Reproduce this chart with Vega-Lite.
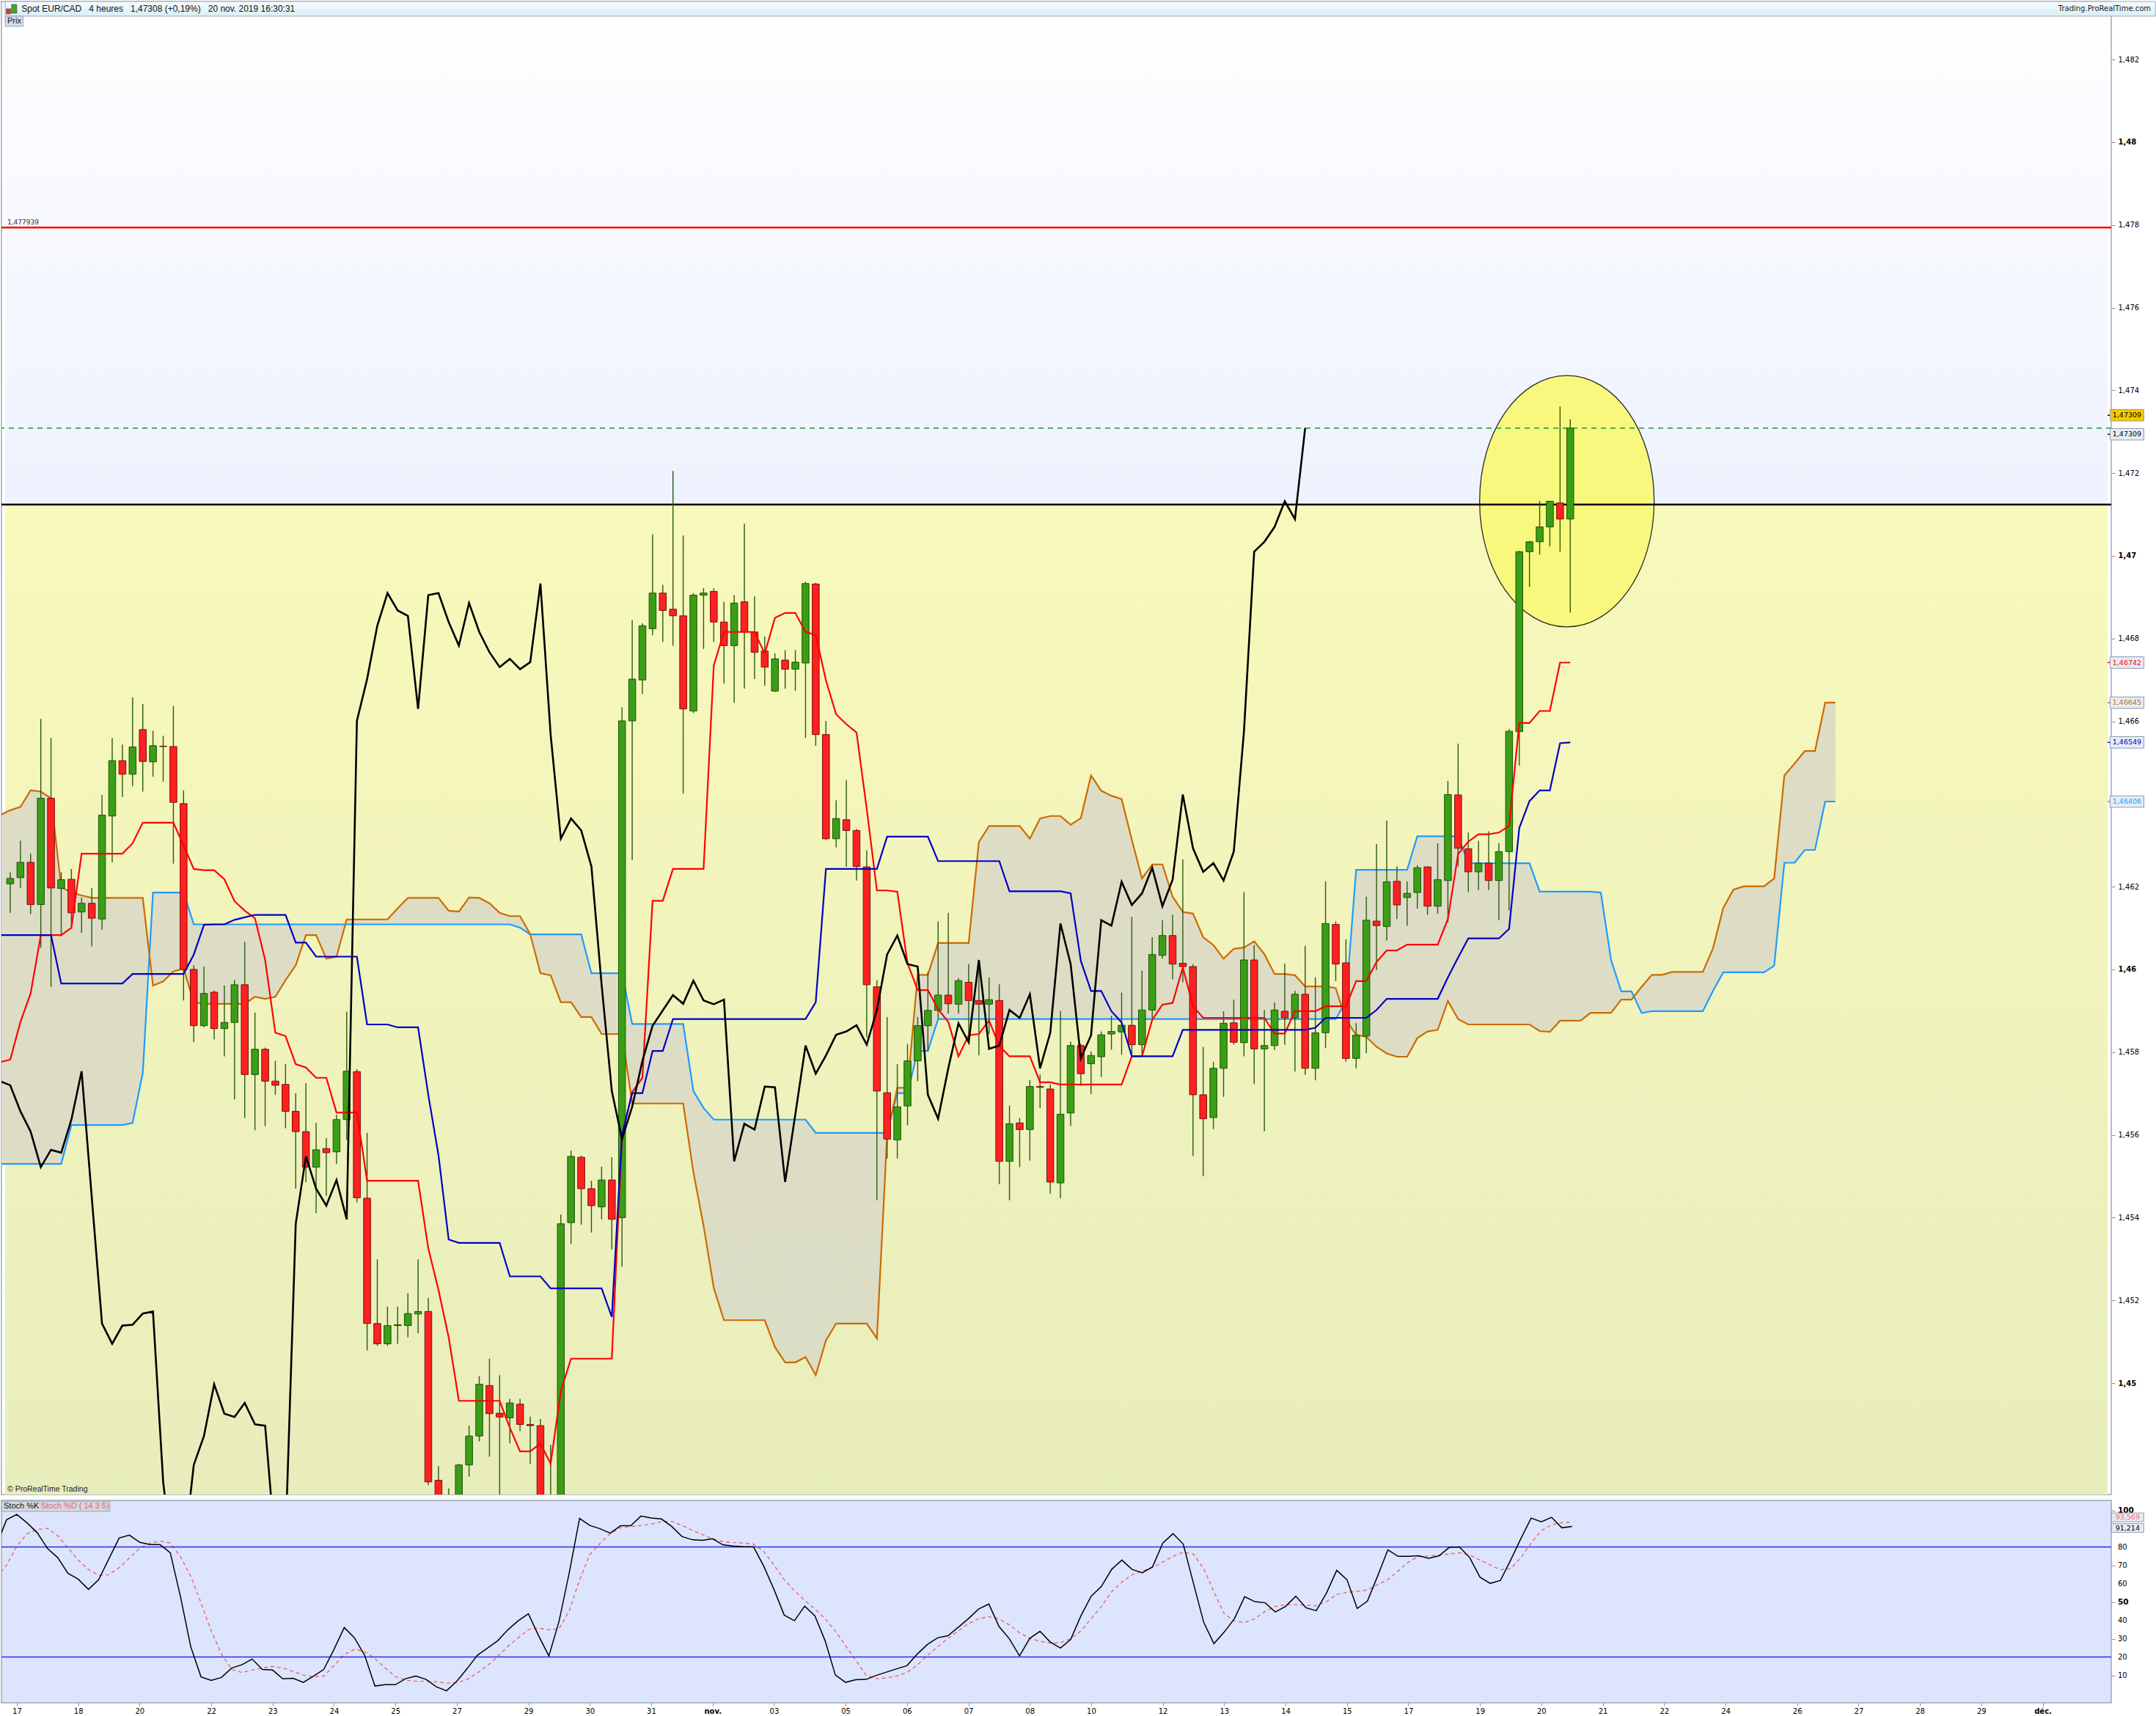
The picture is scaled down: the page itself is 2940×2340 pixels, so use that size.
{
"$schema":"https://vega.github.io/schema/vega-lite/v6.json",
"padding":0,
"background":"#ffffff",
"spacing":6,
"config":{"font":"DejaVu Sans","axis":{"labelFont":"DejaVu Sans","tickColor":"#8A95A3","domainColor":"#8A95A3","labelColor":"#000000","grid":false,"labelOverlap":false}},
"datasets":{
"candles":[
{"k":0,"o":1.46207,"h":1.46235,"l":1.46137,"c":1.4622},
{"k":1,"o":1.46222,"h":1.46311,"l":1.46197,"c":1.46259},
{"k":2,"o":1.46259,"h":1.4628,"l":1.46134,"c":1.46157},
{"k":3,"o":1.46157,"h":1.46606,"l":1.46052,"c":1.46414},
{"k":4,"o":1.46414,"h":1.4656,"l":1.45958,"c":1.46197},
{"k":5,"o":1.46196,"h":1.46235,"l":1.4608,"c":1.46217},
{"k":6,"o":1.46218,"h":1.46243,"l":1.46104,"c":1.46137},
{"k":7,"o":1.46139,"h":1.46174,"l":1.46088,"c":1.4616},
{"k":8,"o":1.4616,"h":1.46197,"l":1.46056,"c":1.46124},
{"k":9,"o":1.46122,"h":1.46422,"l":1.46096,"c":1.46373},
{"k":10,"o":1.46371,"h":1.4656,"l":1.46259,"c":1.46505},
{"k":11,"o":1.46505,"h":1.46544,"l":1.46417,"c":1.46472},
{"k":12,"o":1.46472,"h":1.46658,"l":1.46443,"c":1.46538},
{"k":13,"o":1.4658,"h":1.46642,"l":1.4643,"c":1.46503},
{"k":14,"o":1.46502,"h":1.46577,"l":1.46466,"c":1.46541},
{"k":15,"o":1.4654,"h":1.46565,"l":1.46454,"c":1.46539},
{"k":16,"o":1.46539,"h":1.46637,"l":1.46256,"c":1.46404},
{"k":17,"o":1.46401,"h":1.46433,"l":1.45925,"c":1.46},
{"k":18,"o":1.46,"h":1.4601,"l":1.45824,"c":1.45864},
{"k":19,"o":1.45864,"h":1.46007,"l":1.4586,"c":1.45942},
{"k":20,"o":1.45945,"h":1.45949,"l":1.45831,"c":1.45857},
{"k":21,"o":1.45857,"h":1.45961,"l":1.4579,"c":1.45872},
{"k":22,"o":1.45872,"h":1.45974,"l":1.45686,"c":1.45963},
{"k":23,"o":1.45963,"h":1.46067,"l":1.45641,"c":1.45746},
{"k":24,"o":1.45746,"h":1.45896,"l":1.45611,"c":1.45807},
{"k":25,"o":1.45807,"h":1.45811,"l":1.45621,"c":1.4573},
{"k":26,"o":1.4573,"h":1.45779,"l":1.45697,"c":1.4572},
{"k":27,"o":1.45722,"h":1.45771,"l":1.45616,"c":1.45657},
{"k":28,"o":1.45657,"h":1.45701,"l":1.4547,"c":1.45608},
{"k":29,"o":1.45608,"h":1.45725,"l":1.45486,"c":1.45522},
{"k":30,"o":1.45522,"h":1.45629,"l":1.45411,"c":1.45564},
{"k":31,"o":1.45567,"h":1.45592,"l":1.45453,"c":1.45557},
{"k":32,"o":1.45559,"h":1.45649,"l":1.4553,"c":1.45637},
{"k":33,"o":1.45637,"h":1.45898,"l":1.45588,"c":1.45754},
{"k":34,"o":1.45753,"h":1.45759,"l":1.45437,"c":1.45448},
{"k":35,"o":1.45447,"h":1.45605,"l":1.45079,"c":1.45144},
{"k":36,"o":1.45144,"h":1.45299,"l":1.4509,"c":1.45095},
{"k":37,"o":1.45095,"h":1.45185,"l":1.4509,"c":1.45139},
{"k":38,"o":1.45139,"h":1.45185,"l":1.45095,"c":1.45141},
{"k":39,"o":1.45139,"h":1.45217,"l":1.45111,"c":1.45168},
{"k":40,"o":1.45167,"h":1.45299,"l":1.4512,"c":1.45173},
{"k":41,"o":1.45173,"h":1.45206,"l":1.44753,"c":1.44761},
{"k":42,"o":1.44765,"h":1.44799,"l":1.4452,"c":1.4455},
{"k":43,"o":1.4455,"h":1.44745,"l":1.445,"c":1.4458},
{"k":44,"o":1.4458,"h":1.44805,"l":1.4456,"c":1.44802},
{"k":45,"o":1.44802,"h":1.44897,"l":1.44774,"c":1.44872},
{"k":46,"o":1.44872,"h":1.45017,"l":1.44859,"c":1.44997},
{"k":47,"o":1.44994,"h":1.45059,"l":1.44822,"c":1.44926},
{"k":48,"o":1.44927,"h":1.45019,"l":1.44715,"c":1.44918},
{"k":49,"o":1.44916,"h":1.44962,"l":1.44854,"c":1.44952},
{"k":50,"o":1.44949,"h":1.44962,"l":1.44884,"c":1.449},
{"k":51,"o":1.449,"h":1.44919,"l":1.44805,"c":1.44897},
{"k":52,"o":1.44897,"h":1.44913,"l":1.4456,"c":1.446},
{"k":53,"o":1.446,"h":1.44851,"l":1.4456,"c":1.4462},
{"k":54,"o":1.4462,"h":1.45408,"l":1.4459,"c":1.45385},
{"k":55,"o":1.45388,"h":1.45562,"l":1.45336,"c":1.45548},
{"k":56,"o":1.45546,"h":1.4555,"l":1.45383,"c":1.4547},
{"k":57,"o":1.4547,"h":1.45489,"l":1.45364,"c":1.45429},
{"k":58,"o":1.45426,"h":1.45523,"l":1.45396,"c":1.45491},
{"k":59,"o":1.45491,"h":1.45546,"l":1.45323,"c":1.45396},
{"k":60,"o":1.454,"h":1.46634,"l":1.45282,"c":1.46601},
{"k":61,"o":1.46601,"h":1.46845,"l":1.46264,"c":1.46702},
{"k":62,"o":1.467,"h":1.46837,"l":1.46666,"c":1.46831},
{"k":63,"o":1.46824,"h":1.47052,"l":1.46808,"c":1.4691},
{"k":64,"o":1.4691,"h":1.4693,"l":1.46792,"c":1.46868},
{"k":65,"o":1.46871,"h":1.47205,"l":1.46783,"c":1.46855},
{"k":66,"o":1.46855,"h":1.47049,"l":1.46425,"c":1.4663},
{"k":67,"o":1.46625,"h":1.4691,"l":1.4662,"c":1.46905},
{"k":68,"o":1.46905,"h":1.46922,"l":1.46775,"c":1.4691},
{"k":69,"o":1.46914,"h":1.46922,"l":1.46792,"c":1.4684},
{"k":70,"o":1.4684,"h":1.46889,"l":1.46691,"c":1.46783},
{"k":71,"o":1.46783,"h":1.46905,"l":1.46645,"c":1.46886},
{"k":72,"o":1.46889,"h":1.47078,"l":1.46679,"c":1.46816},
{"k":73,"o":1.46816,"h":1.46902,"l":1.46702,"c":1.46767},
{"k":74,"o":1.4677,"h":1.46805,"l":1.46686,"c":1.46731},
{"k":75,"o":1.46673,"h":1.46764,"l":1.46671,"c":1.46751},
{"k":76,"o":1.46748,"h":1.46772,"l":1.46679,"c":1.46726},
{"k":77,"o":1.46726,"h":1.46772,"l":1.46674,"c":1.46743},
{"k":78,"o":1.46741,"h":1.46938,"l":1.4656,"c":1.46933},
{"k":79,"o":1.46932,"h":1.46935,"l":1.46541,"c":1.46568},
{"k":80,"o":1.46568,"h":1.46601,"l":1.46313,"c":1.46316},
{"k":81,"o":1.46316,"h":1.46409,"l":1.46295,"c":1.46365},
{"k":82,"o":1.46362,"h":1.46458,"l":1.46248,"c":1.46336},
{"k":83,"o":1.46336,"h":1.4634,"l":1.46215,"c":1.46249},
{"k":84,"o":1.46248,"h":1.46288,"l":1.45836,"c":1.45963},
{"k":85,"o":1.45958,"h":1.45974,"l":1.45442,"c":1.45706},
{"k":86,"o":1.45702,"h":1.45885,"l":1.45543,"c":1.4559},
{"k":87,"o":1.45588,"h":1.45771,"l":1.45543,"c":1.45668},
{"k":88,"o":1.4567,"h":1.4582,"l":1.45623,"c":1.45779},
{"k":89,"o":1.45779,"h":1.45885,"l":1.4573,"c":1.45864},
{"k":90,"o":1.45864,"h":1.45994,"l":1.45803,"c":1.45901},
{"k":91,"o":1.45901,"h":1.46116,"l":1.45881,"c":1.45938},
{"k":92,"o":1.45938,"h":1.46137,"l":1.45893,"c":1.45917},
{"k":93,"o":1.45916,"h":1.45979,"l":1.45893,"c":1.45973},
{"k":94,"o":1.45969,"h":1.46013,"l":1.45824,"c":1.45925},
{"k":95,"o":1.45925,"h":1.46012,"l":1.45792,"c":1.45916},
{"k":96,"o":1.45916,"h":1.45981,"l":1.45844,"c":1.45927},
{"k":97,"o":1.45925,"h":1.45964,"l":1.45481,"c":1.45536},
{"k":98,"o":1.45536,"h":1.45671,"l":1.45442,"c":1.45627},
{"k":99,"o":1.45629,"h":1.45641,"l":1.45522,"c":1.45613},
{"k":100,"o":1.45613,"h":1.45733,"l":1.45538,"c":1.45717},
{"k":101,"o":1.45717,"h":1.45746,"l":1.45665,"c":1.45715},
{"k":102,"o":1.45711,"h":1.45722,"l":1.45458,"c":1.45486},
{"k":103,"o":1.45484,"h":1.459,"l":1.45447,"c":1.4565},
{"k":104,"o":1.45653,"h":1.45826,"l":1.45622,"c":1.45816},
{"k":105,"o":1.45816,"h":1.4582,"l":1.45719,"c":1.45748},
{"k":106,"o":1.45772,"h":1.45802,"l":1.45699,"c":1.45792},
{"k":107,"o":1.45789,"h":1.4585,"l":1.4574,"c":1.45842},
{"k":108,"o":1.45844,"h":1.45888,"l":1.45806,"c":1.4585},
{"k":109,"o":1.45849,"h":1.45944,"l":1.45794,"c":1.45865},
{"k":110,"o":1.45865,"h":1.46127,"l":1.45793,"c":1.45818},
{"k":111,"o":1.45818,"h":1.45997,"l":1.4579,"c":1.45902},
{"k":112,"o":1.45902,"h":1.46078,"l":1.45883,"c":1.46036},
{"k":113,"o":1.46034,"h":1.46119,"l":1.46026,"c":1.46082},
{"k":114,"o":1.46082,"h":1.46132,"l":1.45976,"c":1.46013},
{"k":115,"o":1.46015,"h":1.46266,"l":1.45969,"c":1.46007},
{"k":116,"o":1.46007,"h":1.46013,"l":1.45549,"c":1.45697},
{"k":117,"o":1.45697,"h":1.45813,"l":1.455,"c":1.45639},
{"k":118,"o":1.45642,"h":1.45777,"l":1.45614,"c":1.45761},
{"k":119,"o":1.45761,"h":1.45899,"l":1.45692,"c":1.4587},
{"k":120,"o":1.45871,"h":1.45927,"l":1.45818,"c":1.45824},
{"k":121,"o":1.45823,"h":1.46187,"l":1.4579,"c":1.46023},
{"k":122,"o":1.46023,"h":1.46059,"l":1.45723,"c":1.45808},
{"k":123,"o":1.45808,"h":1.45902,"l":1.45609,"c":1.45816},
{"k":124,"o":1.45816,"h":1.4592,"l":1.45805,"c":1.45902},
{"k":125,"o":1.45899,"h":1.46014,"l":1.45818,"c":1.45883},
{"k":126,"o":1.45883,"h":1.45948,"l":1.45753,"c":1.4594},
{"k":127,"o":1.4594,"h":1.46057,"l":1.45745,"c":1.45761},
{"k":128,"o":1.45761,"h":1.45981,"l":1.45732,"c":1.45847},
{"k":129,"o":1.45847,"h":1.46213,"l":1.4581,"c":1.46111},
{"k":130,"o":1.46109,"h":1.46116,"l":1.45972,"c":1.46013},
{"k":131,"o":1.46016,"h":1.46073,"l":1.45777,"c":1.45785},
{"k":132,"o":1.45785,"h":1.4587,"l":1.45761,"c":1.45841},
{"k":133,"o":1.45839,"h":1.46176,"l":1.45798,"c":1.46119},
{"k":134,"o":1.46117,"h":1.46303,"l":1.45998,"c":1.46106},
{"k":135,"o":1.46104,"h":1.4636,"l":1.4607,"c":1.46212},
{"k":136,"o":1.46213,"h":1.46249,"l":1.46122,"c":1.46156},
{"k":137,"o":1.46174,"h":1.46213,"l":1.46106,"c":1.46184},
{"k":138,"o":1.46186,"h":1.46252,"l":1.46147,"c":1.46246},
{"k":139,"o":1.46248,"h":1.46249,"l":1.46132,"c":1.46153},
{"k":140,"o":1.46153,"h":1.46305,"l":1.46135,"c":1.46217},
{"k":141,"o":1.46215,"h":1.46456,"l":1.46114,"c":1.46423},
{"k":142,"o":1.46422,"h":1.46546,"l":1.46249,"c":1.46293},
{"k":143,"o":1.46292,"h":1.46331,"l":1.46187,"c":1.46236},
{"k":144,"o":1.46236,"h":1.46311,"l":1.46192,"c":1.46257},
{"k":145,"o":1.46257,"h":1.46334,"l":1.46192,"c":1.46215},
{"k":146,"o":1.46215,"h":1.46306,"l":1.46119,"c":1.46285},
{"k":147,"o":1.46285,"h":1.46581,"l":1.46143,"c":1.46576},
{"k":148,"o":1.46575,"h":1.47012,"l":1.46493,"c":1.4701},
{"k":149,"o":1.4701,"h":1.47036,"l":1.46925,"c":1.47034},
{"k":150,"o":1.47034,"h":1.47133,"l":1.47003,"c":1.4707},
{"k":151,"o":1.4707,"h":1.47133,"l":1.47023,"c":1.47132},
{"k":152,"o":1.47128,"h":1.47361,"l":1.4701,"c":1.47089},
{"k":153,"o":1.47089,"h":1.4733,"l":1.46863,"c":1.47309}
],
"ichi":[
{"k":-1,"t":1.45776,"j":1.46083,"ch":1.4573},
{"k":0,"t":1.45782,"j":1.46083,"ch":1.4572},
{"k":1,"t":1.45873,"j":1.46083,"ch":1.45657},
{"k":2,"t":1.45942,"j":1.46083,"ch":1.45608},
{"k":3,"t":1.46083,"j":1.46083,"ch":1.45522},
{"k":4,"t":1.46083,"j":1.46083,"ch":1.45564},
{"k":5,"t":1.46083,"j":1.45966,"ch":1.45557},
{"k":6,"t":1.46101,"j":1.45966,"ch":1.45637},
{"k":7,"t":1.4628,"j":1.45966,"ch":1.45754},
{"k":8,"t":1.4628,"j":1.45966,"ch":1.45448},
{"k":9,"t":1.4628,"j":1.45966,"ch":1.45144},
{"k":10,"t":1.4628,"j":1.45966,"ch":1.45095},
{"k":11,"t":1.4628,"j":1.45966,"ch":1.45139},
{"k":12,"t":1.46305,"j":1.45989,"ch":1.45141},
{"k":13,"t":1.46355,"j":1.45989,"ch":1.45168},
{"k":14,"t":1.46355,"j":1.45989,"ch":1.45173},
{"k":15,"t":1.46355,"j":1.45989,"ch":1.44761},
{"k":16,"t":1.46355,"j":1.45989,"ch":1.4455},
{"k":17,"t":1.463,"j":1.45989,"ch":1.4458},
{"k":18,"t":1.46243,"j":1.46036,"ch":1.44802},
{"k":19,"t":1.4624,"j":1.46108,"ch":1.44872},
{"k":20,"t":1.4624,"j":1.46109,"ch":1.44997},
{"k":21,"t":1.46218,"j":1.46109,"ch":1.44926},
{"k":22,"t":1.46165,"j":1.4612,"ch":1.44918},
{"k":23,"t":1.46142,"j":1.46126,"ch":1.44952},
{"k":24,"t":1.46124,"j":1.46132,"ch":1.449},
{"k":25,"t":1.46023,"j":1.46132,"ch":1.44897},
{"k":26,"t":1.45847,"j":1.46132,"ch":1.446},
{"k":27,"t":1.45839,"j":1.46132,"ch":1.4462},
{"k":28,"t":1.45771,"j":1.46065,"ch":1.45385},
{"k":29,"t":1.45763,"j":1.46065,"ch":1.45548},
{"k":30,"t":1.45738,"j":1.46031,"ch":1.4547},
{"k":31,"t":1.45738,"j":1.46031,"ch":1.45429},
{"k":32,"t":1.45654,"j":1.46031,"ch":1.45491},
{"k":33,"t":1.45654,"j":1.46031,"ch":1.45396},
{"k":34,"t":1.45654,"j":1.46031,"ch":1.46601},
{"k":35,"t":1.45489,"j":1.45867,"ch":1.46702},
{"k":36,"t":1.45489,"j":1.45867,"ch":1.46831},
{"k":37,"t":1.45489,"j":1.45867,"ch":1.4691},
{"k":38,"t":1.45489,"j":1.4586,"ch":1.46868},
{"k":39,"t":1.45489,"j":1.4586,"ch":1.46855},
{"k":40,"t":1.45489,"j":1.4586,"ch":1.4663},
{"k":41,"t":1.45326,"j":1.45697,"ch":1.46905},
{"k":42,"t":1.45225,"j":1.45551,"ch":1.4691},
{"k":43,"t":1.45111,"j":1.45347,"ch":1.4684},
{"k":44,"t":1.44957,"j":1.45339,"ch":1.46783},
{"k":45,"t":1.44957,"j":1.45339,"ch":1.46886},
{"k":46,"t":1.44957,"j":1.45339,"ch":1.46816},
{"k":47,"t":1.44957,"j":1.45339,"ch":1.46767},
{"k":48,"t":1.44957,"j":1.45339,"ch":1.46731},
{"k":49,"t":1.44892,"j":1.45258,"ch":1.46751},
{"k":50,"t":1.44835,"j":1.45258,"ch":1.46726},
{"k":51,"t":1.44835,"j":1.45258,"ch":1.46743},
{"k":52,"t":1.44854,"j":1.45258,"ch":1.46933},
{"k":53,"t":1.44805,"j":1.45229,"ch":1.46568},
{"k":54,"t":1.44981,"j":1.45229,"ch":1.46316},
{"k":55,"t":1.45059,"j":1.45229,"ch":1.46365},
{"k":56,"t":1.45059,"j":1.45229,"ch":1.46336},
{"k":57,"t":1.45059,"j":1.45229,"ch":1.46249},
{"k":58,"t":1.45059,"j":1.45229,"ch":1.45963},
{"k":59,"t":1.45059,"j":1.4516,"ch":1.45706},
{"k":60,"t":1.45598,"j":1.456,"ch":1.4559},
{"k":61,"t":1.45704,"j":1.45701,"ch":1.45668},
{"k":62,"t":1.45738,"j":1.45701,"ch":1.45779},
{"k":63,"t":1.46166,"j":1.45803,"ch":1.45864},
{"k":64,"t":1.46166,"j":1.45803,"ch":1.45901},
{"k":65,"t":1.46243,"j":1.4588,"ch":1.45938},
{"k":66,"t":1.46243,"j":1.4588,"ch":1.45917},
{"k":67,"t":1.46243,"j":1.4588,"ch":1.45973},
{"k":68,"t":1.46243,"j":1.4588,"ch":1.45925},
{"k":69,"t":1.46735,"j":1.4588,"ch":1.45916},
{"k":70,"t":1.46816,"j":1.4588,"ch":1.45927},
{"k":71,"t":1.46816,"j":1.4588,"ch":1.45536},
{"k":72,"t":1.46816,"j":1.4588,"ch":1.45627},
{"k":73,"t":1.46816,"j":1.4588,"ch":1.45613},
{"k":74,"t":1.46764,"j":1.4588,"ch":1.45717},
{"k":75,"t":1.4685,"j":1.4588,"ch":1.45715},
{"k":76,"t":1.46862,"j":1.4588,"ch":1.45486},
{"k":77,"t":1.46862,"j":1.4588,"ch":1.4565},
{"k":78,"t":1.46816,"j":1.4588,"ch":1.45816},
{"k":79,"t":1.46809,"j":1.45921,"ch":1.45748},
{"k":80,"t":1.46699,"j":1.46243,"ch":1.45792},
{"k":81,"t":1.46617,"j":1.46243,"ch":1.45842},
{"k":82,"t":1.46593,"j":1.46243,"ch":1.4585},
{"k":83,"t":1.46573,"j":1.46243,"ch":1.45865},
{"k":84,"t":1.46389,"j":1.46243,"ch":1.45818},
{"k":85,"t":1.46191,"j":1.46243,"ch":1.45902},
{"k":86,"t":1.46191,"j":1.46321,"ch":1.46036},
{"k":87,"t":1.46188,"j":1.46321,"ch":1.46082},
{"k":88,"t":1.46015,"j":1.46321,"ch":1.46013},
{"k":89,"t":1.4595,"j":1.46321,"ch":1.46007},
{"k":90,"t":1.4595,"j":1.46321,"ch":1.45697},
{"k":91,"t":1.45904,"j":1.46262,"ch":1.45639},
{"k":92,"t":1.45873,"j":1.46262,"ch":1.45761},
{"k":93,"t":1.4579,"j":1.46262,"ch":1.4587},
{"k":94,"t":1.45841,"j":1.46262,"ch":1.45824},
{"k":95,"t":1.45844,"j":1.46262,"ch":1.46023},
{"k":96,"t":1.45877,"j":1.46262,"ch":1.45808},
{"k":97,"t":1.45815,"j":1.46262,"ch":1.45816},
{"k":98,"t":1.4579,"j":1.46189,"ch":1.45902},
{"k":99,"t":1.4579,"j":1.46189,"ch":1.45883},
{"k":100,"t":1.4579,"j":1.46189,"ch":1.4594},
{"k":101,"t":1.45727,"j":1.46189,"ch":1.45761},
{"k":102,"t":1.45727,"j":1.46189,"ch":1.45847},
{"k":103,"t":1.45722,"j":1.46189,"ch":1.46111},
{"k":104,"t":1.45722,"j":1.46184,"ch":1.46013},
{"k":105,"t":1.45722,"j":1.46021,"ch":1.45785},
{"k":106,"t":1.45722,"j":1.45948,"ch":1.45841},
{"k":107,"t":1.45722,"j":1.45948,"ch":1.46119},
{"k":108,"t":1.45722,"j":1.45899,"ch":1.46106},
{"k":109,"t":1.45722,"j":1.45872,"ch":1.46212},
{"k":110,"t":1.4579,"j":1.4579,"ch":1.46156},
{"k":111,"t":1.4579,"j":1.4579,"ch":1.46184},
{"k":112,"t":1.45878,"j":1.4579,"ch":1.46246},
{"k":113,"t":1.45915,"j":1.4579,"ch":1.46153},
{"k":114,"t":1.45919,"j":1.4579,"ch":1.46217},
{"k":115,"t":1.46005,"j":1.45854,"ch":1.46423},
{"k":116,"t":1.45911,"j":1.45854,"ch":1.46293},
{"k":117,"t":1.45883,"j":1.45854,"ch":1.46236},
{"k":118,"t":1.45883,"j":1.45854,"ch":1.46257},
{"k":119,"t":1.45883,"j":1.45854,"ch":1.46215},
{"k":120,"t":1.45883,"j":1.45854,"ch":1.46285},
{"k":121,"t":1.45883,"j":1.45854,"ch":1.46576},
{"k":122,"t":1.45883,"j":1.45854,"ch":1.4701},
{"k":123,"t":1.45883,"j":1.45854,"ch":1.47034},
{"k":124,"t":1.45845,"j":1.45854,"ch":1.4707},
{"k":125,"t":1.45845,"j":1.45854,"ch":1.47132},
{"k":126,"t":1.45899,"j":1.45854,"ch":1.47089},
{"k":127,"t":1.45899,"j":1.45854,"ch":1.47309},
{"k":128,"t":1.45899,"j":1.45859,"ch":null},
{"k":129,"t":1.45911,"j":1.45883,"ch":null},
{"k":130,"t":1.45911,"j":1.45883,"ch":null},
{"k":131,"t":1.45911,"j":1.45883,"ch":null},
{"k":132,"t":1.45972,"j":1.45883,"ch":null},
{"k":133,"t":1.45972,"j":1.45883,"ch":null},
{"k":134,"t":1.46018,"j":1.45902,"ch":null},
{"k":135,"t":1.46046,"j":1.45929,"ch":null},
{"k":136,"t":1.46046,"j":1.45929,"ch":null},
{"k":137,"t":1.4606,"j":1.45929,"ch":null},
{"k":138,"t":1.4606,"j":1.45929,"ch":null},
{"k":139,"t":1.4606,"j":1.45929,"ch":null},
{"k":140,"t":1.4606,"j":1.45929,"ch":null},
{"k":141,"t":1.46122,"j":1.45981,"ch":null},
{"k":142,"t":1.46279,"j":1.46029,"ch":null},
{"k":143,"t":1.46309,"j":1.46075,"ch":null},
{"k":144,"t":1.46327,"j":1.46075,"ch":null},
{"k":145,"t":1.46327,"j":1.46075,"ch":null},
{"k":146,"t":1.46331,"j":1.46075,"ch":null},
{"k":147,"t":1.46347,"j":1.46098,"ch":null},
{"k":148,"t":1.46596,"j":1.46342,"ch":null},
{"k":149,"t":1.46596,"j":1.46407,"ch":null},
{"k":150,"t":1.46625,"j":1.46433,"ch":null},
{"k":151,"t":1.46625,"j":1.46433,"ch":null},
{"k":152,"t":1.46742,"j":1.46547,"ch":null},
{"k":153,"t":1.46742,"j":1.46549,"ch":null}
],
"cloud":[
{"k":-1,"a":1.4553,"b":1.46373},{"k":0,"a":1.4553,"b":1.46385},{"k":1,"a":1.4553,"b":1.46393},{"k":2,"a":1.4553,"b":1.46433},{"k":3,"a":1.4553,"b":1.4643},{"k":4,"a":1.4553,"b":1.46414},{"k":5,"a":1.4553,"b":1.46199},{"k":6,"a":1.45624,"b":1.46186},{"k":7,"a":1.45624,"b":1.46179},{"k":8,"a":1.45624,"b":1.46173},{"k":9,"a":1.45624,"b":1.46173},{"k":10,"a":1.45624,"b":1.46173},{"k":11,"a":1.45624,"b":1.46173},{"k":12,"a":1.45629,"b":1.46173},{"k":13,"a":1.4575,"b":1.46173},{"k":14,"a":1.46186,"b":1.45961},{"k":15,"a":1.46186,"b":1.45971},{"k":16,"a":1.46186,"b":1.45995},{"k":17,"a":1.46186,"b":1.46002},{"k":18,"a":1.46109,"b":1.45921},{"k":19,"a":1.46109,"b":1.45917},{"k":20,"a":1.46109,"b":1.45917},{"k":21,"a":1.46109,"b":1.45917},{"k":22,"a":1.46109,"b":1.45917},{"k":23,"a":1.46109,"b":1.45917},{"k":24,"a":1.46109,"b":1.45934},{"k":25,"a":1.46109,"b":1.45929},{"k":26,"a":1.46109,"b":1.45934},{"k":27,"a":1.46109,"b":1.45974},{"k":28,"a":1.46109,"b":1.4601},{"k":29,"a":1.46109,"b":1.46083},{"k":30,"a":1.46109,"b":1.46083},{"k":31,"a":1.46109,"b":1.46026},{"k":32,"a":1.46109,"b":1.46031},{"k":33,"a":1.46109,"b":1.46121},{"k":34,"a":1.46109,"b":1.46121},{"k":35,"a":1.46109,"b":1.46121},{"k":36,"a":1.46109,"b":1.46121},{"k":37,"a":1.46109,"b":1.46121},{"k":38,"a":1.46109,"b":1.46148},{"k":39,"a":1.46109,"b":1.46173},{"k":40,"a":1.46109,"b":1.46173},{"k":41,"a":1.46109,"b":1.46173},{"k":42,"a":1.46109,"b":1.46173},{"k":43,"a":1.46109,"b":1.46142},{"k":44,"a":1.46109,"b":1.4614},{"k":45,"a":1.46109,"b":1.46174},{"k":46,"a":1.46109,"b":1.46173},{"k":47,"a":1.46109,"b":1.4616},{"k":48,"a":1.46109,"b":1.46137},{"k":49,"a":1.46109,"b":1.46129},{"k":50,"a":1.46101,"b":1.46129},{"k":51,"a":1.46085,"b":1.46085},{"k":52,"a":1.46085,"b":1.45991},{"k":53,"a":1.46085,"b":1.45986},{"k":54,"a":1.46085,"b":1.45921},{"k":55,"a":1.46085,"b":1.45921},{"k":56,"a":1.46085,"b":1.45885},{"k":57,"a":1.45991,"b":1.45885},{"k":58,"a":1.45991,"b":1.45844},{"k":59,"a":1.45991,"b":1.45844},{"k":60,"a":1.45991,"b":1.45844},{"k":61,"a":1.45868,"b":1.45676},{"k":62,"a":1.45868,"b":1.45676},{"k":63,"a":1.45868,"b":1.45676},{"k":64,"a":1.45868,"b":1.45676},{"k":65,"a":1.45868,"b":1.45676},{"k":66,"a":1.45868,"b":1.45676},{"k":67,"a":1.45706,"b":1.4551},{"k":68,"a":1.45665,"b":1.4538},{"k":69,"a":1.45637,"b":1.4523},{"k":70,"a":1.45637,"b":1.45152},{"k":71,"a":1.45637,"b":1.45152},{"k":72,"a":1.45637,"b":1.45152},{"k":73,"a":1.45637,"b":1.45152},{"k":74,"a":1.45637,"b":1.45152},{"k":75,"a":1.45637,"b":1.45087},{"k":76,"a":1.45637,"b":1.4505},{"k":77,"a":1.45637,"b":1.4505},{"k":78,"a":1.45637,"b":1.45063},{"k":79,"a":1.45605,"b":1.45019},{"k":80,"a":1.45605,"b":1.45103},{"k":81,"a":1.45605,"b":1.45144},{"k":82,"a":1.45605,"b":1.45144},{"k":83,"a":1.45605,"b":1.45144},{"k":84,"a":1.45605,"b":1.45144},{"k":85,"a":1.45605,"b":1.45108},{"k":86,"a":1.45605,"b":1.456},{"k":87,"a":1.45701,"b":1.45714},{"k":88,"a":1.45701,"b":1.45714},{"k":89,"a":1.45803,"b":1.45987},{"k":90,"a":1.45803,"b":1.45987},{"k":91,"a":1.4588,"b":1.46064},{"k":92,"a":1.4588,"b":1.46064},{"k":93,"a":1.4588,"b":1.46064},{"k":94,"a":1.4588,"b":1.46064},{"k":95,"a":1.4588,"b":1.46308},{"k":96,"a":1.4588,"b":1.46347},{"k":97,"a":1.4588,"b":1.46347},{"k":98,"a":1.4588,"b":1.46347},{"k":99,"a":1.4588,"b":1.46347},{"k":100,"a":1.4588,"b":1.46316},{"k":101,"a":1.4588,"b":1.46365},{"k":102,"a":1.4588,"b":1.46371},{"k":103,"a":1.4588,"b":1.46371},{"k":104,"a":1.4588,"b":1.4635},{"k":105,"a":1.4588,"b":1.46366},{"k":106,"a":1.4588,"b":1.46469},{"k":107,"a":1.4588,"b":1.46432},{"k":108,"a":1.4588,"b":1.4642},{"k":109,"a":1.4588,"b":1.46412},{"k":110,"a":1.4588,"b":1.46314},{"k":111,"a":1.4588,"b":1.4622},{"k":112,"a":1.4588,"b":1.46254},{"k":113,"a":1.4588,"b":1.46254},{"k":114,"a":1.4588,"b":1.46176},{"k":115,"a":1.4588,"b":1.46139},{"k":116,"a":1.4588,"b":1.46135},{"k":117,"a":1.4588,"b":1.46078},{"k":118,"a":1.4588,"b":1.46059},{"k":119,"a":1.4588,"b":1.46026},{"k":120,"a":1.4588,"b":1.4605},{"k":121,"a":1.4588,"b":1.46053},{"k":122,"a":1.4588,"b":1.46068},{"k":123,"a":1.4588,"b":1.46037},{"k":124,"a":1.4588,"b":1.45989},{"k":125,"a":1.4588,"b":1.45989},{"k":126,"a":1.4588,"b":1.45986},{"k":127,"a":1.4588,"b":1.45959},{"k":128,"a":1.4588,"b":1.45959},{"k":129,"a":1.4588,"b":1.45959},{"k":130,"a":1.4588,"b":1.45955},{"k":131,"a":1.45924,"b":1.45878},{"k":132,"a":1.46241,"b":1.45842},{"k":133,"a":1.46241,"b":1.45837},{"k":134,"a":1.46241,"b":1.45813},{"k":135,"a":1.46241,"b":1.45797},{"k":136,"a":1.46241,"b":1.45789},{"k":137,"a":1.46241,"b":1.45789},{"k":138,"a":1.46322,"b":1.45834},{"k":139,"a":1.46322,"b":1.4585},{"k":140,"a":1.46322,"b":1.45854},{"k":141,"a":1.46322,"b":1.45924},{"k":142,"a":1.46322,"b":1.4588},{"k":143,"a":1.46257,"b":1.45867},{"k":144,"a":1.46257,"b":1.45867},{"k":145,"a":1.46257,"b":1.45867},{"k":146,"a":1.46257,"b":1.45867},{"k":147,"a":1.46257,"b":1.45867},{"k":148,"a":1.46257,"b":1.45867},{"k":149,"a":1.46257,"b":1.45867},{"k":150,"a":1.46188,"b":1.45851},{"k":151,"a":1.46188,"b":1.45849},{"k":152,"a":1.46188,"b":1.45876},{"k":153,"a":1.46188,"b":1.45876},{"k":154,"a":1.46188,"b":1.45876},{"k":155,"a":1.46188,"b":1.45895},{"k":156,"a":1.46186,"b":1.45895},{"k":157,"a":1.46023,"b":1.45895},{"k":158,"a":1.45947,"b":1.45927},{"k":159,"a":1.45947,"b":1.45927},{"k":160,"a":1.45895,"b":1.45958},{"k":161,"a":1.45899,"b":1.45987},{"k":162,"a":1.45899,"b":1.45987},{"k":163,"a":1.45899,"b":1.45994},{"k":164,"a":1.45899,"b":1.45994},{"k":165,"a":1.45899,"b":1.45994},{"k":166,"a":1.45899,"b":1.45994},{"k":167,"a":1.45948,"b":1.46051},{"k":168,"a":1.45993,"b":1.46148},{"k":169,"a":1.45993,"b":1.46193},{"k":170,"a":1.45993,"b":1.46201},{"k":171,"a":1.45993,"b":1.46201},{"k":172,"a":1.45993,"b":1.46201},{"k":173,"a":1.46009,"b":1.4622},{"k":174,"a":1.46258,"b":1.46469},{"k":175,"a":1.46258,"b":1.46498},{"k":176,"a":1.46289,"b":1.46528},{"k":177,"a":1.46289,"b":1.46528},{"k":178,"a":1.46406,"b":1.46645},{"k":179,"a":1.46406,"b":1.46645}
],
"stoch":[
{"k":-1,"sk":80.9,"sd":63.6},{"k":0,"sk":94.9,"sd":70.1},{"k":1,"sk":97.8,"sd":80.4},{"k":2,"sk":93.2,"sd":87.3},{"k":3,"sk":87.8,"sd":89.6},{"k":4,"sk":79.2,"sd":90.2},{"k":5,"sk":74.2,"sd":86.2},{"k":6,"sk":65.7,"sd":79.6},{"k":7,"sk":62.5,"sd":72.9},{"k":8,"sk":56.9,"sd":67.8},{"k":9,"sk":62.2,"sd":64.6},{"k":10,"sk":73.6,"sd":64.9},{"k":11,"sk":84.9,"sd":68.8},{"k":12,"sk":86.5,"sd":74.0},{"k":13,"sk":82.6,"sd":79.3},{"k":14,"sk":81.3,"sd":82.1},{"k":15,"sk":81.3,"sd":83.2},{"k":16,"sk":76.9,"sd":82.2},{"k":17,"sk":52.9,"sd":74.6},{"k":18,"sk":25.6,"sd":64.1},{"k":19,"sk":9.2,"sd":49.6},{"k":20,"sk":7.3,"sd":34.2},{"k":21,"sk":8.9,"sd":21.6},{"k":22,"sk":14.0,"sd":13.2},{"k":23,"sk":15.8,"sd":11.6},{"k":24,"sk":18.9,"sd":12.9},{"k":25,"sk":13.2,"sd":14.0},{"k":26,"sk":12.9,"sd":14.9},{"k":27,"sk":8.1,"sd":14.0},{"k":28,"sk":8.4,"sd":12.2},{"k":29,"sk":6.2,"sd":10.2},{"k":30,"sk":9.6,"sd":9.2},{"k":31,"sk":13.2,"sd":9.6},{"k":32,"sk":24.2,"sd":15.3},{"k":33,"sk":36.1,"sd":21.3},{"k":34,"sk":30.5,"sd":24.2},{"k":35,"sk":20.9,"sd":23.0},{"k":36,"sk":4.2,"sd":19.2},{"k":37,"sk":4.9,"sd":14.0},{"k":38,"sk":4.9,"sd":9.4},{"k":39,"sk":8.2,"sd":7.4},{"k":40,"sk":9.6,"sd":6.8},{"k":41,"sk":7.8,"sd":6.8},{"k":42,"sk":3.8,"sd":6.5},{"k":43,"sk":1.6,"sd":5.8},{"k":44,"sk":6.8,"sd":6.0},{"k":45,"sk":13.6,"sd":7.7},{"k":46,"sk":20.9,"sd":11.3},{"k":47,"sk":24.9,"sd":15.3},{"k":48,"sk":28.9,"sd":20.4},{"k":49,"sk":34.9,"sd":25.8},{"k":50,"sk":39.8,"sd":30.5},{"k":51,"sk":43.6,"sd":35.0},{"k":52,"sk":31.6,"sd":35.8},{"k":53,"sk":20.6,"sd":34.9},{"k":54,"sk":39.6,"sd":35.4},{"k":55,"sk":66.2,"sd":45.3},{"k":56,"sk":95.6,"sd":62.0},{"k":57,"sk":91.8,"sd":75.8},{"k":58,"sk":90.0,"sd":82.0},{"k":59,"sk":87.6,"sd":87.3},{"k":60,"sk":91.6,"sd":90.6},{"k":61,"sk":91.6,"sd":91.2},{"k":62,"sk":96.9,"sd":91.7},{"k":63,"sk":95.8,"sd":92.5},{"k":64,"sk":95.3,"sd":93.8},{"k":65,"sk":91.3,"sd":94.0},{"k":66,"sk":85.8,"sd":91.8},{"k":67,"sk":84.0,"sd":89.2},{"k":68,"sk":83.6,"sd":86.8},{"k":69,"sk":84.5,"sd":84.5},{"k":70,"sk":81.2,"sd":83.0},{"k":71,"sk":80.5,"sd":82.5},{"k":72,"sk":80.2,"sd":82.2},{"k":73,"sk":80.1,"sd":81.6},{"k":74,"sk":69.6,"sd":77.6},{"k":75,"sk":56.9,"sd":70.2},{"k":76,"sk":42.9,"sd":62.2},{"k":77,"sk":39.8,"sd":56.2},{"k":78,"sk":47.8,"sd":50.9},{"k":79,"sk":42.5,"sd":46.2},{"k":80,"sk":28.9,"sd":40.9},{"k":81,"sk":10.2,"sd":34.2},{"k":82,"sk":6.2,"sd":26.2},{"k":83,"sk":7.6,"sd":18.2},{"k":84,"sk":7.8,"sd":10.2},{"k":85,"sk":10.0,"sd":8.2},{"k":86,"sk":11.8,"sd":8.6},{"k":87,"sk":13.6,"sd":9.6},{"k":88,"sk":15.3,"sd":11.6},{"k":89,"sk":21.6,"sd":15.6},{"k":90,"sk":26.9,"sd":20.9},{"k":91,"sk":30.5,"sd":25.6},{"k":92,"sk":31.6,"sd":30.2},{"k":93,"sk":36.2,"sd":34.2},{"k":94,"sk":40.9,"sd":38.2},{"k":95,"sk":46.2,"sd":40.9},{"k":96,"sk":48.9,"sd":42.0},{"k":97,"sk":36.6,"sd":40.9},{"k":98,"sk":30.0,"sd":37.6},{"k":99,"sk":20.6,"sd":33.2},{"k":100,"sk":30.2,"sd":30.2},{"k":101,"sk":34.0,"sd":28.6},{"k":102,"sk":28.2,"sd":27.6},{"k":103,"sk":24.9,"sd":27.8},{"k":104,"sk":29.6,"sd":30.0},{"k":105,"sk":42.5,"sd":34.2},{"k":106,"sk":53.2,"sd":40.9},{"k":107,"sk":58.5,"sd":47.6},{"k":108,"sk":67.8,"sd":55.6},{"k":109,"sk":72.9,"sd":60.9},{"k":110,"sk":67.8,"sd":64.9},{"k":111,"sk":66.0,"sd":66.9},{"k":112,"sk":69.2,"sd":68.9},{"k":113,"sk":82.2,"sd":71.8},{"k":114,"sk":87.3,"sd":74.9},{"k":115,"sk":81.6,"sd":77.2},{"k":116,"sk":60.2,"sd":76.2},{"k":117,"sk":38.9,"sd":68.2},{"k":118,"sk":27.3,"sd":55.6},{"k":119,"sk":33.6,"sd":43.6},{"k":120,"sk":40.9,"sd":39.6},{"k":121,"sk":52.9,"sd":38.9},{"k":122,"sk":50.2,"sd":40.9},{"k":123,"sk":49.6,"sd":44.9},{"k":124,"sk":44.6,"sd":47.6},{"k":125,"sk":47.6,"sd":48.6},{"k":126,"sk":53.2,"sd":48.6},{"k":127,"sk":46.9,"sd":48.2},{"k":128,"sk":45.3,"sd":48.0},{"k":129,"sk":54.9,"sd":50.2},{"k":130,"sk":67.3,"sd":54.2},{"k":131,"sk":62.2,"sd":55.3},{"k":132,"sk":46.5,"sd":55.8},{"k":133,"sk":50.5,"sd":56.6},{"k":134,"sk":64.2,"sd":59.6},{"k":135,"sk":78.5,"sd":62.2},{"k":136,"sk":74.9,"sd":66.9},{"k":137,"sk":74.9,"sd":71.8},{"k":138,"sk":75.2,"sd":74.9},{"k":139,"sk":73.8,"sd":75.2},{"k":140,"sk":75.2,"sd":75.6},{"k":141,"sk":79.8,"sd":76.2},{"k":142,"sk":80.0,"sd":76.9},{"k":143,"sk":74.2,"sd":75.6},{"k":144,"sk":63.6,"sd":72.9},{"k":145,"sk":60.2,"sd":70.2},{"k":146,"sk":61.8,"sd":67.6},{"k":147,"sk":72.9,"sd":68.2},{"k":148,"sk":84.6,"sd":74.2},{"k":149,"sk":95.8,"sd":82.2},{"k":150,"sk":93.8,"sd":88.9},{"k":151,"sk":96.2,"sd":92.2},{"k":152,"sk":90.5,"sd":93.3},{"k":153,"sk":91.214,"sd":93.569}
],
"tags":[
{"tag":"a","v":1.4734,"txt":"1,47309"},
{"tag":"b","v":1.47294,"txt":"1,47309"},
{"tag":"t","v":1.46742,"txt":"1,46742"},
{"tag":"sb","v":1.46645,"txt":"1,46645"},
{"tag":"kj","v":1.46549,"txt":"1,46549"},
{"tag":"sa","v":1.46406,"txt":"1,46406"}
],
"stags":[
{"tag":"d","v":96.2,"txt":"93,569"},
{"tag":"k","v":90.4,"txt":"91,214"}
],
"sticks":[{"v":10},{"v":20},{"v":30},{"v":40},{"v":50},{"v":60},{"v":70},{"v":80},{"v":100}]
},
"vconcat":[
{
"width":2877,"height":2036,
"view":{"stroke":"#9FA9B5","strokeWidth":1.5},
"layer":[
{"data":{"values":[{}]},
 "mark":{"type":"rect","color":{"gradient":"linear","x1":0,"y1":0,"x2":0,"y2":1,"stops":[{"offset":0,"color":"#FEFEFF"},{"offset":1,"color":"#EEF2FE"}]}},
 "encoding":{
  "x":{"datum":-0.5,"type":"quantitative","scale":{"domain":[-0.5,205.7],"nice":false,"zero":false},"axis":null},
  "x2":{"datum":205.7},
  "y":{"datum":1.483049,"type":"quantitative","scale":{"domain":[1.447305,1.483404],"nice":false,"zero":false},
   "axis":{"orient":"right","title":null,"domain":false,"grid":false,"ticks":true,"tickSize":5,"tickColor":"#8A95A3","labels":true,"labelFontSize":10,"labelPadding":4,"labelColor":"#000000","labelFont":"DejaVu Sans","labelOverlap":false,
    "values":[1.45,1.452,1.454,1.456,1.458,1.46,1.462,1.466,1.468,1.47,1.472,1.474,1.476,1.478,1.48,1.482],
    "labelExpr":"abs(datum.value*100 - round(datum.value*100)) < 0.00001 ? replace(format(datum.value, '.2f'), '.', ',') : replace(format(datum.value, '.3f'), '.', ',')",
    "labelFontWeight":{"condition":{"test":"abs(datum.value*100 - round(datum.value*100)) < 0.00001","value":"bold"},"value":"normal"}}},
  "y2":{"datum":1.47124}}},
{"data":{"values":[{}]},
 "mark":{"type":"rect","color":{"gradient":"linear","x1":0,"y1":0,"x2":0,"y2":1,"stops":[{"offset":0,"color":"#F8F9BB"},{"offset":1,"color":"#E8EDBC"}]}},
 "encoding":{"x":{"datum":-0.5,"type":"quantitative","axis":null},"x2":{"datum":205.7},"y":{"datum":1.47124,"type":"quantitative"},"y2":{"datum":1.447305}}},
{"data":{"values":[{}]},
 "mark":{"type":"rect","stroke":"#9FA9B5","strokeWidth":1,"color":{"gradient":"linear","x1":0,"y1":0,"x2":0,"y2":1,"stops":[{"offset":0,"color":"#F4FBFE"},{"offset":1,"color":"#DCEEF7"}]}},
 "encoding":{"x":{"datum":-0.5,"type":"quantitative","axis":null},"x2":{"datum":210.4},"y":{"datum":1.483404,"type":"quantitative"},"y2":{"datum":1.483049}}},
{"data":{"values":[{}]},
 "mark":{"type":"rect","color":"#E23A3A","stroke":"#555555","strokeWidth":0.8},
 "encoding":{"x":{"datum":-0.39,"type":"quantitative","axis":null},"x2":{"datum":0.07},"y":{"datum":1.483227,"type":"quantitative"},"y2":{"datum":1.483103}}},
{"data":{"values":[{}]},
 "mark":{"type":"rect","color":"#3AAA1E","stroke":"#555555","strokeWidth":0.8},
 "encoding":{"x":{"datum":0.14,"type":"quantitative","axis":null},"x2":{"datum":0.64},"y":{"datum":1.483333,"type":"quantitative"},"y2":{"datum":1.483121}}},
{"data":{"values":[{}]},
 "mark":{"type":"rect","color":"#D5DCE6","stroke":"#9AA4B0","strokeWidth":1},
 "encoding":{"x":{"datum":-0.5,"type":"quantitative","axis":null},"x2":{"datum":1.25},"y":{"datum":1.483049,"type":"quantitative"},"y2":{"datum":1.482801}}},
{"data":{"values":[{}]},
 "mark":{"type":"text","text":"Prix","font":"Liberation Sans","fontSize":11,"align":"left","baseline":"middle","dx":3,"color":"#111111"},
 "encoding":{"x":{"datum":-0.5,"type":"quantitative","axis":null},"y":{"datum":1.482925,"type":"quantitative"}}},
{"data":{"values":[{}]},
 "mark":{"type":"point","shape":"M-1,0A1,1.44 0 1,0 1,0A1,1.44 0 1,0 -1,0Z","size":56644,"filled":true,"fill":"#F8F87E","stroke":"#2A2A2A","strokeWidth":1.3,"opacity":1,"fillOpacity":1,"strokeOpacity":1},
 "encoding":{"x":{"datum":152.67,"type":"quantitative","axis":null},"y":{"datum":1.471321,"type":"quantitative"}}},
{"data":{"name":"cloud"},
 "mark":{"type":"area","color":"#DADAC6","opacity":0.9,"clip":true},
 "encoding":{"x":{"field":"k","type":"quantitative","axis":null},"y":{"field":"a","type":"quantitative"},"y2":{"field":"b"}}},
{"data":{"name":"cloud"},
 "mark":{"type":"line","color":"#1E9BFF","strokeWidth":2.2,"clip":true},
 "encoding":{"x":{"field":"k","type":"quantitative","axis":null},"y":{"field":"a","type":"quantitative"}}},
{"data":{"name":"cloud"},
 "mark":{"type":"line","color":"#CC6A00","strokeWidth":2.2,"clip":true},
 "encoding":{"x":{"field":"k","type":"quantitative","axis":null},"y":{"field":"b","type":"quantitative"}}},
{"data":{"values":[{}]},
 "mark":{"type":"rule","color":"#FF0000","strokeWidth":2.5},
 "encoding":{"y":{"datum":1.477939,"type":"quantitative"}}},
{"data":{"values":[{}]},
 "mark":{"type":"rule","color":"#000000","strokeWidth":2.5},
 "encoding":{"y":{"datum":1.47124,"type":"quantitative"}}},
{"data":{"values":[{}]},
 "mark":{"type":"rule","color":"#109A38","strokeWidth":1.6,"strokeDash":[7,6]},
 "encoding":{"y":{"datum":1.47309,"type":"quantitative"}}},
{"data":{"name":"candles"},
 "mark":{"type":"rule","color":"#2B5A10","strokeWidth":1.4,"clip":true},
 "encoding":{"x":{"field":"k","type":"quantitative","axis":null},"y":{"field":"l","type":"quantitative"},"y2":{"field":"h"}}},
{"data":{"name":"candles"},
 "mark":{"type":"bar","width":9.5,"strokeWidth":1,"clip":true},
 "encoding":{"x":{"field":"k","type":"quantitative","axis":null},"y":{"field":"o","type":"quantitative"},"y2":{"field":"c"},
  "color":{"condition":{"test":"datum.c >= datum.o","value":"#3A9E16"},"value":"#FF2020"},
  "stroke":{"condition":{"test":"datum.c >= datum.o","value":"#1E5206"},"value":"#7A1010"}}},
{"data":{"name":"ichi"},
 "mark":{"type":"line","color":"#FF0000","strokeWidth":2.2,"clip":true},
 "encoding":{"x":{"field":"k","type":"quantitative","axis":null},"y":{"field":"t","type":"quantitative"}}},
{"data":{"name":"ichi"},
 "mark":{"type":"line","color":"#0000C4","strokeWidth":2.2,"clip":true},
 "encoding":{"x":{"field":"k","type":"quantitative","axis":null},"y":{"field":"j","type":"quantitative"}}},
{"data":{"name":"ichi"},
 "mark":{"type":"line","color":"#000000","strokeWidth":2.6,"clip":true},
 "encoding":{"x":{"field":"k","type":"quantitative","axis":null},"y":{"field":"ch","type":"quantitative"}}},
{"data":{"values":[{}]},
 "mark":{"type":"text","text":"Spot EUR/CAD\u00a0\u00a0\u00a04 heures\u00a0\u00a0\u00a01,47308 (+0,19%)\u00a0\u00a0\u00a020 nov. 2019 16:30:31","font":"Liberation Sans","fontSize":12,"align":"left","baseline":"middle","color":"#111111"},
 "encoding":{"x":{"datum":1.1,"type":"quantitative","axis":null},"y":{"datum":1.483227,"type":"quantitative"}}},
{"data":{"values":[{}]},
 "mark":{"type":"text","text":"Trading.ProRealTime.com","font":"DejaVu Sans","fontSize":10,"align":"right","baseline":"middle","color":"#1A1A1A"},
 "encoding":{"x":{"datum":209.95,"type":"quantitative","axis":null},"y":{"datum":1.483227,"type":"quantitative"}}},
{"data":{"values":[{}]},
 "mark":{"type":"text","text":"1,477939","font":"DejaVu Sans","fontSize":9,"align":"left","baseline":"bottom","dx":3,"dy":-2,"color":"#333333"},
 "encoding":{"x":{"datum":-0.5,"type":"quantitative","axis":null},"y":{"datum":1.477939,"type":"quantitative"}}},
{"data":{"values":[{}]},
 "mark":{"type":"text","text":"© ProRealTime Trading","font":"Liberation Sans","fontSize":10.5,"align":"left","baseline":"bottom","dx":3,"dy":-2,"color":"#222222"},
 "encoding":{"x":{"datum":-0.5,"type":"quantitative","axis":null},"y":{"datum":1.447305,"type":"quantitative"}}},
{"data":{"name":"tags"},
 "mark":{"type":"rule","strokeWidth":1.5},
 "encoding":{"x":{"datum":205.7,"type":"quantitative","axis":null},"x2":{"datum":206.1},"y":{"field":"v","type":"quantitative"},
  "color":{"condition":[{"test":"datum.tag == 't'","value":"#FF0000"},{"test":"datum.tag == 'sb'","value":"#CC6A00"},{"test":"datum.tag == 'kj'","value":"#0000C4"},{"test":"datum.tag == 'sa'","value":"#1E9BFF"}],"value":"#000000"}}},
{"data":{"name":"tags"},
 "mark":{"type":"point","shape":"M-1,-0.34L1,-0.34L1,0.34L-1,0.34Z","size":2116,"filled":true,"stroke":"#8B9BB0","strokeWidth":1,"opacity":1},
 "encoding":{"x":{"datum":207.6,"type":"quantitative","axis":null},"y":{"field":"v","type":"quantitative"},
  "fill":{"condition":{"test":"datum.tag == 'a'","value":"#F8C800"},"value":"#E6ECF4"}}},
{"data":{"name":"tags"},
 "mark":{"type":"text","font":"DejaVu Sans","fontSize":9.5,"align":"center","baseline":"middle"},
 "encoding":{"x":{"datum":207.6,"type":"quantitative","axis":null},"y":{"field":"v","type":"quantitative"},"text":{"field":"txt"},
  "color":{"condition":[{"test":"datum.tag == 't'","value":"#FF0000"},{"test":"datum.tag == 'sb'","value":"#CC6A00"},{"test":"datum.tag == 'kj'","value":"#0000C4"},{"test":"datum.tag == 'sa'","value":"#1E9BFF"}],"value":"#000000"}}}
]
},
{
"width":2877,"height":276,
"view":{"fill":"#DCE5FD","stroke":"#9FA9B5","strokeWidth":1.5},
"layer":[
{"data":{"name":"stoch"},
 "mark":{"type":"line","color":"#EE6666","strokeWidth":1.4,"strokeDash":[5,4],"clip":true},
 "encoding":{
  "x":{"field":"k","type":"quantitative","scale":{"domain":[-0.5,205.7],"nice":false,"zero":false},
   "axis":{"orient":"bottom","title":null,"domain":false,"grid":false,"ticks":true,"labels":true,"tickSize":4,"tickColor":"#8A95A3","labelFontSize":10,"labelPadding":2,"labelOverlap":false,"labelFlush":false,"labelFont":"DejaVu Sans","labelColor":"#000000",
    "values":[1,7,13,20,26,32,38,44,51,57,63,69,75,82,88,94,100,106,113,119,125,131,137,144,150,156,162,168,175,181,187,193,199],
    "labelExpr":"['17','18','20','22','23','24','25','27','29','30','31','nov.','03','05','06','07','08','10','12','13','14','15','17','19','20','21','22','24','26','27','28','29','déc.'][indexof([1,7,13,20,26,32,38,44,51,57,63,69,75,82,88,94,100,106,113,119,125,131,137,144,150,156,162,168,175,181,187,193,199], datum.value)]",
    "labelFontWeight":{"condition":{"test":"datum.value == 69 || datum.value == 199","value":"bold"},"value":"normal"}}},
  "y":{"field":"sd","type":"quantitative","scale":{"domain":[-4.96,105.44],"nice":false,"zero":false},
   "axis":{"orient":"right","title":null,"domain":false,"grid":false,"ticks":true,"labels":false,"tickSize":5,"tickColor":"#8A95A3",
    "values":[10,20,30,40,50,60,70,80,100]}}}},
{"data":{"values":[{}]},
 "mark":{"type":"rule","color":"#2E2EE8","strokeWidth":1.5},
 "encoding":{"y":{"datum":80,"type":"quantitative"}}},
{"data":{"values":[{}]},
 "mark":{"type":"rule","color":"#2E2EE8","strokeWidth":1.5},
 "encoding":{"y":{"datum":20,"type":"quantitative"}}},
{"data":{"name":"stoch"},
 "mark":{"type":"line","color":"#000000","strokeWidth":1.5,"clip":true},
 "encoding":{"x":{"field":"k","type":"quantitative"},"y":{"field":"sk","type":"quantitative"}}},
{"data":{"values":[{}]},
 "mark":{"type":"rect","color":"#D3D8E1","stroke":"#9AA4B0","strokeWidth":1},
 "encoding":{"x":{"datum":-0.5,"type":"quantitative"},"x2":{"datum":10.1},"y":{"datum":105.04,"type":"quantitative"},"y2":{"datum":99.44}}},
{"data":{"values":[{}]},
 "mark":{"type":"text","text":"Stoch %K","font":"Liberation Sans","fontSize":11,"align":"left","baseline":"middle","dx":3,"color":"#111111"},
 "encoding":{"x":{"datum":-0.5,"type":"quantitative"},"y":{"datum":102.24,"type":"quantitative"}}},
{"data":{"values":[{}]},
 "mark":{"type":"text","text":"Stoch %D ( 14 3 5)","font":"Liberation Sans","fontSize":11,"align":"left","baseline":"middle","color":"#E86464"},
 "encoding":{"x":{"datum":3.35,"type":"quantitative"},"y":{"datum":102.24,"type":"quantitative"}}},
{"data":{"name":"sticks"},
 "transform":[{"filter":"datum.v != 50 && datum.v != 100"}],
 "mark":{"type":"text","font":"DejaVu Sans","fontSize":10,"align":"left","baseline":"middle","dx":9,"color":"#000000"},
 "encoding":{"x":{"datum":205.7,"type":"quantitative"},"y":{"field":"v","type":"quantitative"},"text":{"field":"v","type":"quantitative","format":"d"}}},
{"data":{"name":"sticks"},
 "transform":[{"filter":"datum.v == 50 || datum.v == 100"}],
 "mark":{"type":"text","font":"DejaVu Sans","fontSize":10.5,"fontWeight":"bold","align":"left","baseline":"middle","dx":9,"color":"#000000"},
 "encoding":{"x":{"datum":205.7,"type":"quantitative"},"y":{"field":"v","type":"quantitative"},"text":{"field":"v","type":"quantitative","format":"d"}}},
{"data":{"name":"stags"},
 "mark":{"type":"rule","strokeWidth":1.5},
 "encoding":{"x":{"datum":205.7,"type":"quantitative"},"x2":{"datum":206.1},"y":{"field":"v","type":"quantitative"},
  "color":{"condition":{"test":"datum.tag == 'd'","value":"#EE6A6A"},"value":"#000000"}}},
{"data":{"name":"stags"},
 "mark":{"type":"point","shape":"M-1,-0.27L1,-0.27L1,0.27L-1,0.27Z","size":1936,"filled":true,"fill":"#E6ECF4","stroke":"#8B9BB0","strokeWidth":1,"opacity":1},
 "encoding":{"x":{"datum":207.3,"type":"quantitative"},"y":{"field":"v","type":"quantitative"}}},
{"data":{"name":"stags"},
 "mark":{"type":"text","font":"DejaVu Sans","fontSize":9.5,"align":"center","baseline":"middle"},
 "encoding":{"x":{"datum":207.3,"type":"quantitative"},"y":{"field":"v","type":"quantitative"},"text":{"field":"txt"},
  "color":{"condition":{"test":"datum.tag == 'd'","value":"#EE6A6A"},"value":"#000000"}}}
]
}
]
}
